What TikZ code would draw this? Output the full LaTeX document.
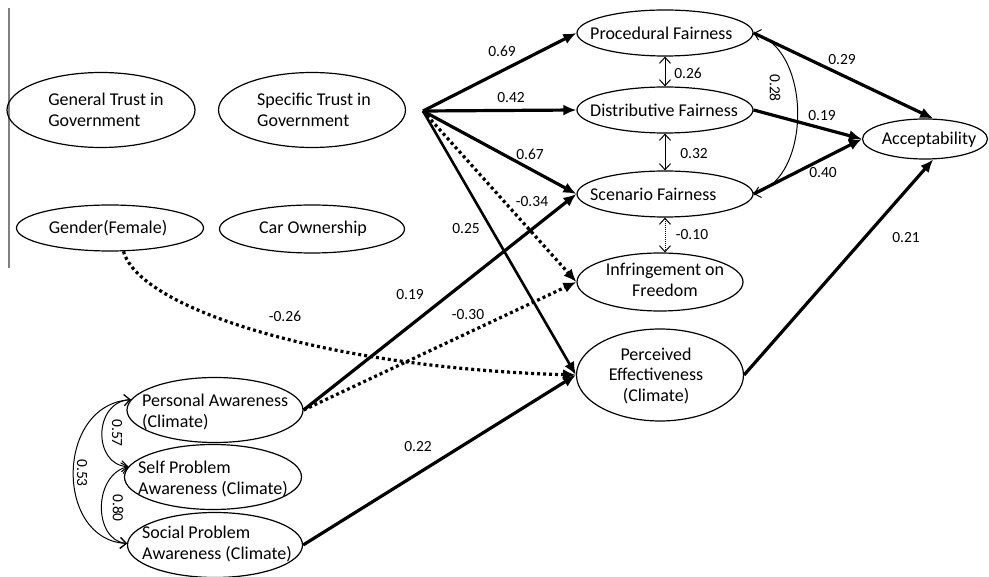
\documentclass[tikz,border=0pt]{standalone}
\usepackage{fontspec}
\setmainfont{Carlito}
\usetikzlibrary{shapes.geometric,arrows.meta}
\newcommand\ndfont{\fontsize{18}{21}\selectfont}
\newcommand\lbfont{\fontsize{15.5}{18}\selectfont}
\begin{document}
\begin{tikzpicture}[x=1pt,y=-1pt,
  ell/.style={draw, ellipse, line width=1.2pt, inner sep=0pt},
  txt/.style={inner sep=0pt, align=left, font=\ndfont},
  ctxt/.style={inner sep=0pt, align=center, font=\ndfont},
  lab/.style={inner sep=0pt, font=\lbfont},
  mainarr/.style={line width=3.2pt, -{Latex[length=13pt,width=11pt]}},
  dotarr/.style={line width=3.2pt, dash pattern=on 3pt off 3pt, -{Latex[length=13pt,width=11pt]}},
  corr/.style={line width=1pt, {Straight Barb[length=6pt,width=11pt]}-{Straight Barb[length=6pt,width=11pt]}}
]
\useasboundingbox (0,0) rectangle (989,577);
\draw[gray, line width=1.5pt] (9,8) -- (9,268);

% left block
\node[ell, minimum width=188pt, minimum height=75pt] (gt) at (101,110) {};
\node[txt] (gtt) at (106,110) {General Trust in\\Government};
\node[ell, minimum width=187pt, minimum height=75pt] (st) at (312,110) {};
\node[txt] (stt) at (314,110) {Specific Trust in\\Government};
\node[ell, minimum width=187pt, minimum height=46pt] (gf) at (110,228) {};
\node[txt] (gft) at (108,228) {Gender(Female)};
\node[ell, minimum width=185pt, minimum height=48pt] (co) at (312,229) {};
\node[txt] (cot) at (313,229) {Car Ownership};

% awareness
\node[ell, minimum width=176pt, minimum height=65pt] (pa) at (215,410) {};
\node[txt, anchor=west] (pat) at (142,412) {Personal Awareness\\(Climate)};
\node[ell, minimum width=177pt, minimum height=65pt] (sp) at (213,477) {};
\node[txt, anchor=west] (spt) at (138,479) {Self Problem\\Awareness (Climate)};
\node[ell, minimum width=175pt, minimum height=65pt] (sc) at (215,545) {};
\node[txt, anchor=west] (sct) at (142,544) {Social Problem\\Awareness (Climate)};

% fairness
\node[ell, minimum width=176pt, minimum height=46pt] (pf) at (665,33) {};
\node[txt, anchor=west] (pft) at (590,33) {Procedural Fairness};
\node[ell, minimum width=176pt, minimum height=46pt] (df) at (665,110) {};
\node[txt, anchor=west] (dft) at (590,110) {Distributive Fairness};
\node[ell, minimum width=176pt, minimum height=46pt] (sf) at (665,194) {};
\node[txt, anchor=west] (sft) at (590,194) {Scenario Fairness};
\node[ell, minimum width=166pt, minimum height=58pt] (inf) at (660,282) {};
\node[ctxt] (inft) at (665,280) {Infringement on\\Freedom};
\node[ell, minimum width=167pt, minimum height=92pt] (pe) at (660,375) {};
\node[ctxt] (pet) at (656,376) {Perceived\\Effectiveness\\(Climate)};
\node[ell, minimum width=125pt, minimum height=40pt] (acc) at (925,139) {};
\node[txt] (acct) at (929,140) {Acceptability};

% paths from trust
\coordinate (src) at (423,111);
\draw[mainarr] (src) -- (pf.west);
\draw[mainarr] (src) -- (df.west);
\draw[mainarr] (src) -- (sf.west);
\draw[dotarr] (src) -- (inf.west);
\draw[mainarr, line width=2.6pt] (src) -- (pe.west);

% from awareness
\draw[mainarr] (pa.east) -- (sf.west);
\draw[dotarr] (pa.east) -- (inf.west);
\draw[mainarr] (sc.east) -- (pe.west);
\draw[dotarr] (gf.-60) .. controls (140,310) and (330,368) .. (pe.west);

% to acceptability
\draw[mainarr] (pf.east) -- (acc.68);
\draw[mainarr] (df.east) -- (acc.west);
\draw[mainarr] (sf.east) -- (acc.west);
\draw[mainarr] (pe.east) -- (acc.-68);

% correlations
\draw[corr] (pf.south) -- (df.north);
\draw[corr] (df.south) -- (sf.north);
\draw[corr, dash pattern=on 1pt off 1pt] (sf.south) -- (inf.north -| sf.south);
\draw[corr] (pf.east) .. controls (812,50) and (812,178) .. (sf.east);
\draw[corr] (pa.173) .. controls (93,402) and (93,465) .. (sp.173);
\draw[corr] (sp.173) .. controls (93,475) and (93,540) .. (sc.179);
\draw[corr] (pa.173) .. controls (55,405) and (55,540) .. (sc.179);

% labels
\node[lab] (l69) at (502,51) {0.69};
\node[lab] (l42) at (511,98) {0.42};
\node[lab] (l67) at (530,154) {0.67};
\node[lab] (l34) at (532,202) {-0.34};
\node[lab] (l25) at (466,229) {0.25};
\node[lab] (l19a) at (410,295) {0.19};
\node[lab] (l30) at (468,315) {-0.30};
\node[lab] (l26n) at (285,316) {-0.26};
\node[lab] (l22) at (418,447) {0.22};
\node[lab] (l26) at (688,73) {0.26};
\node[lab] (l32) at (694,154) {0.32};
\node[lab] (l10) at (692,235) {-0.10};
\node[lab, rotate=-90] (l28) at (775,88) {0.28};
\node[lab] (l29) at (842,60) {0.29};
\node[lab] (l19b) at (822,116) {0.19};
\node[lab] (l40) at (823,173) {0.40};
\node[lab] (l21) at (906,238) {0.21};
\node[lab, rotate=-90] (l57) at (117,433) {0.57};
\node[lab, rotate=-90] (l53) at (82,473) {0.53};
\node[lab, rotate=-90] (l80) at (118,508) {0.80};
\end{tikzpicture}
\end{document}
